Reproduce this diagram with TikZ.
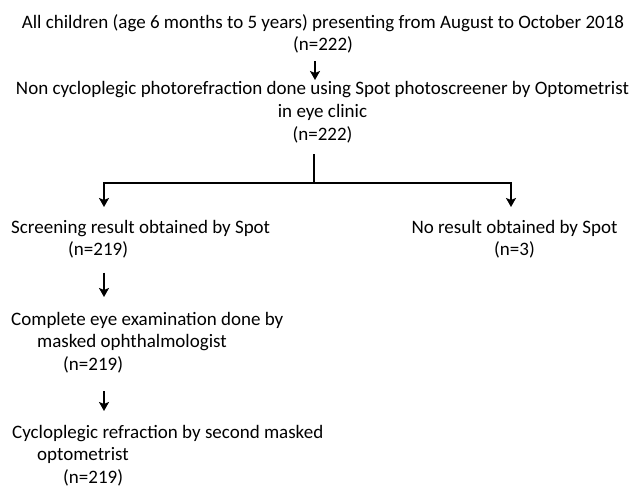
\documentclass[tikz,border=0pt]{standalone}
\usepackage{fontspec}
\setmainfont{Carlito}
\usetikzlibrary{%
    arrows.meta,
    calc,
    positioning
}
\tikzset{headarrow/.style = {line width=2pt,-{Stealth[length=9pt,width=10pt,inset=2pt]}}}
\tikzset{stage/.style = {inner sep=0pt,font=\fontsize{19}{22.5}\selectfont}}

\begin{document}
\begin{tikzpicture}[x=1pt,y=-1pt]
    \useasboundingbox (0,0) rectangle (633,487);

    \node (all) [stage,align=center,anchor=north] at (323,14) {All children (age 6 months to 5 years) presenting from August to October 2018\\(n=222)};
    \node (photo) [stage,font=\fontsize{19}{23}\selectfont,align=center,anchor=north] at (322.5,81) {Non cycloplegic photorefraction done using Spot photoscreener by Optometrist\\in eye clinic\\(n=222)};
    \node (res) [stage,align=left,anchor=north west] at (11,220) {Screening result obtained by Spot\\\hspace*{57pt}(n=219)};
    \node (nores) [stage,align=center,anchor=north] at (514.5,220) {No result obtained by Spot\\(n=3)};
    \node (exam) [stage,align=left,anchor=north west] at (11,312) {Complete eye examination done by\\\hspace*{26pt}masked ophthalmologist\\\hspace*{52pt}(n=219)};
    \node (cyclo) [stage,align=left,anchor=north west] at (12,425) {Cycloplegic refraction by second masked\\\hspace*{25pt}optometrist\\\hspace*{51pt}(n=219)};

    \coordinate (top) at (315,0);
    \coordinate (fork) at (314,183);
    \coordinate (left) at (104,183);
    \coordinate (right) at (511,183);

    \draw[headarrow,shorten <=8pt,shorten >=1pt] (all.south -| top) -- (photo.north -| top);
    \draw[line width=2pt,shorten <=11pt] (photo.south -| fork) -- (fork);
    \draw[headarrow,shorten >=13pt] (fork) -- (left) -- (left |- res.north);
    \draw[headarrow,shorten >=13pt] (fork) -- (right) -- (right |- nores.north);
    \draw[headarrow,shorten <=14pt,shorten >=15pt] (res.south -| left) -- (exam.north -| left);
    \draw[headarrow,shorten <=18pt,shorten >=14pt] (exam.south -| left) -- (cyclo.north -| left);
\end{tikzpicture}
\end{document}
